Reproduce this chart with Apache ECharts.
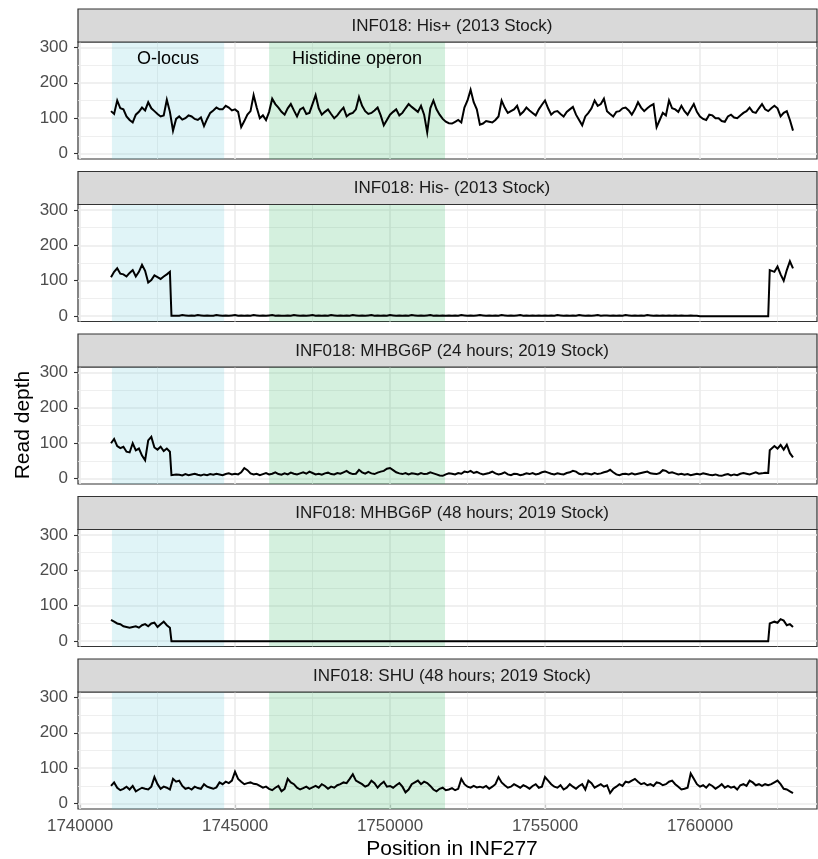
<!DOCTYPE html>
<html><head><meta charset="utf-8">
<script src="https://cdn.jsdelivr.net/npm/echarts@6.0.0/dist/echarts.min.js"></script>
<style>html,body{margin:0;padding:0;background:#fff}#chart{width:818px;height:859px}</style>
</head><body><div id="chart"></div>
<script>
// ---------- data ----------
const panelTitles = [
  "INF018: His+ (2013 Stock)",
  "INF018: His- (2013 Stock)",
  "INF018: MHBG6P (24 hours; 2019 Stock)",
  "INF018: MHBG6P (48 hours; 2019 Stock)",
  "INF018: SHU (48 hours; 2019 Stock)"
];
// sampling positions: 1741000 .. 1763000, every 100 bp
const START = 1741000, STEP = 100, NPOS = 221;
const positions = Array.from({length: NPOS}, (_, i) => START + i * STEP);

const hisPlus = [
 120,112,150,128,125,105,95,88,110,118,
 130,122,145,128,120,112,105,108,152,118,
 65,98,105,96,100,108,105,98,95,102,
 78,98,115,122,130,125,125,135,130,122,
 125,118,75,92,110,120,165,130,100,108,
 95,118,155,140,130,118,110,128,140,122,
 105,125,130,112,115,140,165,128,110,118,
 125,112,100,108,120,130,105,112,115,125,
 160,135,120,112,115,122,130,108,80,95,
 110,118,125,108,115,128,140,132,125,118,
 135,110,60,128,150,125,110,98,90,86,
 85,90,95,88,130,150,180,145,125,82,
 85,92,90,88,95,105,150,130,115,120,
 125,135,110,118,130,122,115,108,125,138,
 150,128,110,118,120,112,105,118,125,132,
 110,95,80,105,115,128,150,135,140,155,
 120,112,105,118,120,128,130,122,110,125,
 145,130,120,128,135,140,75,95,115,108,
 150,128,125,118,135,120,110,125,140,118,
 105,98,95,110,108,100,100,92,90,105,
 110,102,100,108,115,120,130,118,115,128,
 140,125,120,128,135,128,105,115,120,95,
 65];

const hisMinus = [
 110,125,135,120,118,112,122,130,112,125,
 145,128,95,102,115,110,105,112,118,125,
 2,1,1,3,2,1,2,1,3,2,
 1,2,1,1,3,2,1,2,1,2,
 3,1,2,1,2,1,3,2,1,2,
 1,2,3,1,2,1,1,2,1,3,
 2,1,2,1,2,3,1,2,1,2,
 1,3,2,1,2,1,2,1,3,2,
 1,2,1,2,3,1,2,1,2,1,
 3,2,1,2,1,2,1,3,2,1,
 2,1,2,3,1,2,1,2,1,2,
 1,2,1,3,2,1,2,1,2,3,
 2,1,2,1,2,1,3,2,1,2,
 1,2,3,1,2,1,2,1,2,1,
 2,1,2,1,3,2,1,2,1,2,
 1,3,2,1,2,1,2,3,1,2,
 2,1,2,1,2,1,3,2,1,2,
 1,2,1,3,2,1,2,1,2,1,
 2,1,2,1,2,1,1,2,1,1,
 0,0,0,0,0,0,0,0,0,0,
 0,0,0,0,0,0,0,0,0,0,
 0,0,0,
 135,125,140,118,100,130,155,135];
const hisMinusEdges = [[1742950,125],[1742950,1],[1762250,0],[1762250,130]];

const mhbg24 = [
 100,112,92,86,90,76,74,100,80,85,
 65,52,108,118,88,82,90,78,85,76,
 10,12,11,9,13,10,12,14,11,9,
 12,10,13,11,14,12,10,13,15,12,
 14,12,18,30,24,15,12,14,10,13,
 16,12,14,18,13,11,15,12,17,14,
 12,15,18,14,20,16,12,14,11,15,
 17,13,12,16,14,18,22,16,13,14,
 25,18,14,19,15,13,17,20,22,28,
 30,24,18,15,13,16,12,15,14,12,
 16,13,14,18,15,12,9,8,12,15,
 14,12,16,14,20,18,22,16,19,15,
 12,14,16,20,15,12,14,18,12,10,
 14,13,10,12,15,13,16,12,14,18,
 20,17,14,12,15,13,12,16,18,22,
 20,14,12,15,14,12,16,13,15,18,
 20,25,18,12,10,13,14,12,15,12,
 14,16,18,20,15,14,13,16,24,22,
 16,18,15,12,14,11,13,10,12,14,
 12,15,13,11,10,12,9,8,11,13,
 9,12,10,14,16,14,12,15,18,14,
 15,17,16,
 80,92,85,95,82,96,72,60];
const mhbg24Edges = [[1742950,76],[1742950,10],[1762250,16],[1762250,80]];

const mhbg48 = [
 60,55,50,48,42,40,38,40,42,38,
 45,48,42,50,52,40,48,55,45,38,
 0,0,0,0,0,0,0,0,0,0, 0,0,0,0,0,0,0,0,0,0,
 0,0,0,0,0,0,0,0,0,0, 0,0,0,0,0,0,0,0,0,0,
 0,0,0,0,0,0,0,0,0,0, 0,0,0,0,0,0,0,0,0,0,
 0,0,0,0,0,0,0,0,0,0, 0,0,0,0,0,0,0,0,0,0,
 0,0,0,0,0,0,0,0,0,0, 0,0,0,0,0,0,0,0,0,0,
 0,0,0,0,0,0,0,0,0,0, 0,0,0,0,0,0,0,0,0,0,
 0,0,0,0,0,0,0,0,0,0, 0,0,0,0,0,0,0,0,0,0,
 0,0,0,0,0,0,0,0,0,0, 0,0,0,0,0,0,0,0,0,0,
 0,0,0,0,0,0,0,0,0,0, 0,0,0,0,0,0,0,0,0,0,
 0,0,0,0,0,0,0,0,0,0,
 0,0,0,
 50,55,52,62,58,45,48,40];
const mhbg48Edges = [[1742950,38],[1742950,0],[1762250,0],[1762250,50]];

const shu = [
 50,60,45,38,42,48,40,50,35,40,
 45,42,40,48,75,55,42,48,45,40,
 70,62,65,50,42,45,40,48,44,42,
 55,48,45,42,46,60,55,62,58,65,
 90,70,62,55,58,60,56,55,50,45,
 48,42,38,45,50,35,42,70,60,55,
 45,40,44,48,42,46,50,45,55,50,
 42,48,45,52,55,60,58,70,83,65,
 60,55,48,52,65,58,45,55,62,48,
 50,45,52,58,48,32,40,55,60,65,
 55,62,58,50,40,35,42,45,38,40,
 44,38,42,70,55,48,45,50,46,48,
 45,50,42,48,55,75,60,52,45,48,
 55,50,45,52,48,42,50,55,45,48,
 75,65,55,48,45,52,40,45,55,48,
 42,50,55,40,65,58,45,50,55,48,
 52,30,42,48,55,50,62,60,65,70,
 62,55,58,52,55,50,60,58,52,55,
 62,65,55,48,40,42,45,85,70,55,
 48,52,45,55,50,42,48,55,45,50,
 45,48,40,52,55,50,65,60,52,55,
 50,55,52,55,60,65,55,42,40,35,
 30];

const seriesValues = [hisPlus, hisMinus, mhbg24, mhbg48, shu];
const seriesEdges = [[], hisMinusEdges, mhbg24Edges, mhbg48Edges, []];

const regionNames = ["O-locus", "Histidine operon"];
const regionStart = [1741030, 1746100];
const regionEnd = [1744650, 1751775];

const xMajorTicks = [1740000, 1745000, 1750000, 1755000, 1760000];
const xMinorTicks = [1742500, 1747500, 1752500, 1757500, 1762500];
const yMajorTicks = [0, 100, 200, 300];
const yMinorTicks = [50, 150, 250];

// ---------- layout / style ----------
const FONT = "'Liberation Sans', Arial, Helvetica, sans-serif";
const LEFT = 78, WIDTH = 739, PH = 117, SH = 33;
const panelTop = [42, 204.5, 367, 529.5, 692];
const regionColors = ['rgba(100,200,215,0.2)', 'rgba(40,180,90,0.2)'];
const TEXT_CX = 452;

function buildData(vals, edges) {
  const out = []; let e = 0;
  for (let i = 0; i < positions.length; i++) {
    while (e < edges.length && edges[e][0] < positions[i]) { out.push(edges[e]); e++; }
    out.push([positions[i], vals[i]]);
  }
  while (e < edges.length) { out.push(edges[e]); e++; }
  return out;
}

const grids = [], xAxes = [], yAxes = [], series = [], graphics = [];
for (let p = 0; p < 5; p++) {
  const last = p === 4;
  grids.push({left: LEFT, top: panelTop[p], width: WIDTH, height: PH, show: true,
    backgroundColor: '#ffffff', borderColor: '#333333', borderWidth: 1.2, containLabel: false});
  xAxes.push({type: 'value', gridIndex: p, min: 1739935, max: 1763774,
    axisLine: {show: false}, splitLine: {show: false},
    axisTick: {show: last, length: 4, lineStyle: {color: '#333333', width: 1.1}, customValues: xMajorTicks},
    axisLabel: {show: last, margin: 9, fontSize: 17, color: '#4d4d4d', fontFamily: FONT, customValues: xMajorTicks,
      formatter: v => String(v)}});
  yAxes.push({type: 'value', gridIndex: p, min: -15, max: 315,
    axisLine: {show: false}, splitLine: {show: false},
    axisTick: {show: true, length: 4, lineStyle: {color: '#333333', width: 1.1}, customValues: yMajorTicks},
    axisLabel: {show: true, margin: 10, fontSize: 17, color: '#4d4d4d', fontFamily: FONT, customValues: yMajorTicks}});

  const gridLines = [];
  xMinorTicks.forEach(v => gridLines.push({xAxis: v, lineStyle: {width: 0.8}}));
  yMinorTicks.forEach(v => gridLines.push({yAxis: v, lineStyle: {width: 0.8}}));
  xMajorTicks.forEach(v => gridLines.push({xAxis: v, lineStyle: {width: 1.6}}));
  yMajorTicks.forEach(v => gridLines.push({yAxis: v, lineStyle: {width: 1.6}}));

  const areas = regionNames.map((nm, k) => [
    {xAxis: regionStart[k], name: nm, itemStyle: {color: regionColors[k]}},
    {xAxis: regionEnd[k]}
  ]);

  series.push({
    type: 'line', xAxisIndex: p, yAxisIndex: p, z: 3,
    data: buildData(seriesValues[p], seriesEdges[p]),
    showSymbol: false, symbol: 'none', silent: true,
    lineStyle: {color: '#000000', width: 2, join: 'miter'},
    markLine: {silent: true, symbol: 'none', z: 1, animation: false,
      label: {show: false}, lineStyle: {color: '#ebebeb', type: 'solid'}, data: gridLines},
    markArea: {silent: true, z: 2, animation: false,
      label: {show: p === 0, position: 'insideTop', distance: 8, fontSize: 18, color: '#000000', fontFamily: FONT},
      data: areas}
  });

  const stripTop = panelTop[p] - SH;
  graphics.push({type: 'rect', shape: {x: LEFT, y: stripTop, width: WIDTH, height: SH},
    style: {fill: '#d9d9d9', stroke: '#333333', lineWidth: 1.2}, z: 10});
  graphics.push({type: 'text', x: TEXT_CX, y: stripTop + SH / 2 + 0.5, z: 11,
    style: {text: panelTitles[p], fontSize: 17, fontFamily: FONT, fill: '#1a1a1a', align: 'center', verticalAlign: 'middle'}});
}
graphics.push({type: 'text', x: TEXT_CX, y: 849, z: 11,
  style: {text: 'Position in INF277', fontSize: 21, fontFamily: FONT, fill: '#000000', align: 'center', verticalAlign: 'middle'}});
graphics.push({type: 'text', x: 23, y: 425, rotation: Math.PI / 2, z: 11,
  style: {text: 'Read depth', fontSize: 21, fontFamily: FONT, fill: '#000000', align: 'center', verticalAlign: 'middle'}});

const chart = echarts.init(document.getElementById('chart'), null, {renderer: 'canvas'});
chart.setOption({
  animation: false,
  backgroundColor: '#ffffff',
  grid: grids, xAxis: xAxes, yAxis: yAxes, series: series, graphic: graphics
});
</script></body></html>
